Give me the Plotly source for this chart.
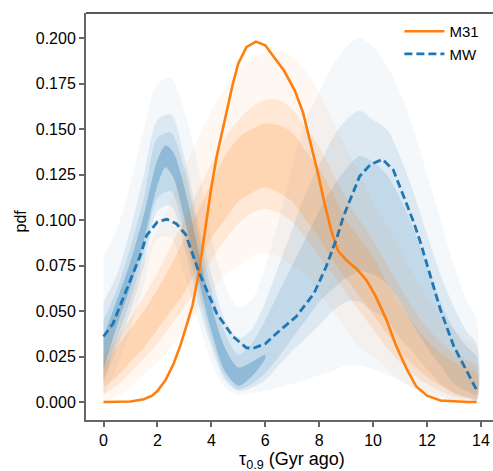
import plotly.graph_objects as go

# ---------------- data ----------------
m31_x = [0, 0.5, 1.0, 1.5, 1.8, 2.0, 2.3, 2.6, 2.85, 3.1, 3.3, 3.55, 3.75, 4.0, 4.2, 4.4, 4.6, 4.8,
         5.0, 5.3, 5.65, 6.0, 6.3, 6.7, 7.1, 7.4, 7.65, 7.95, 8.2, 8.45, 8.7, 9.0, 9.4, 9.75, 10.1,
         10.5, 10.85, 11.25, 11.6, 12.0, 12.5, 13.0, 13.5, 13.84]
m31_y = [0.0, 0.0, 0.0003, 0.0015, 0.0035, 0.006, 0.012, 0.021, 0.031, 0.043, 0.053, 0.072, 0.092,
         0.118, 0.135, 0.149, 0.163, 0.175, 0.186, 0.195, 0.198, 0.196, 0.19, 0.182, 0.171, 0.159,
         0.144, 0.126, 0.109, 0.094, 0.083, 0.078, 0.073, 0.067, 0.058, 0.045, 0.031, 0.018, 0.0085,
         0.0035, 0.0008, 0.0002, 0.0, 0.0]

mw_x = [0, 0.35, 0.85, 1.35, 1.6, 2.0, 2.35, 2.7, 3.05, 3.55, 4.2, 4.8, 5.3, 5.55, 6.0, 6.4, 7.15,
        7.8, 8.25, 8.65, 8.9, 9.2, 9.5, 9.9, 10.35, 10.75, 11.1, 11.5, 11.75, 12.1, 12.5, 13.0, 13.5, 13.84]
mw_y = [0.036, 0.043, 0.0615, 0.080, 0.0915, 0.099, 0.1004, 0.098, 0.092, 0.071, 0.0487, 0.036,
        0.0298, 0.0295, 0.032, 0.0375, 0.047, 0.0595, 0.074, 0.09, 0.102, 0.113, 0.124, 0.1305,
        0.1333, 0.1275, 0.1147, 0.099, 0.088, 0.0707, 0.0505, 0.0304, 0.0158, 0.0066]

# envelopes of the faint posterior sample curves
band_x = [0, 0.5, 1, 1.5, 2, 2.5, 3, 3.5, 4, 4.5, 5, 5.5, 6, 6.5, 7, 7.5, 8, 8.5, 9, 9.5, 10,
          10.5, 11, 11.5, 12, 12.5, 13, 13.5, 13.84]

mw_outer_lo = [0.003, 0.02, 0.04, 0.065, 0.09, 0.09, 0.07, 0.045, 0.022, 0.008, 0.004, 0.005, 0.006,
               0.008, 0.01, 0.012, 0.015, 0.017, 0.02, 0.02, 0.018, 0.015, 0.012, 0.008, 0.005, 0.003,
               0.001, 0.0, 0.0]
mw_outer_hi = [0.08, 0.095, 0.12, 0.15, 0.175, 0.178, 0.16, 0.13, 0.09, 0.065, 0.052, 0.056, 0.075,
               0.1, 0.13, 0.155, 0.17, 0.185, 0.195, 0.2, 0.195, 0.185, 0.17, 0.15, 0.125, 0.1,
               0.075, 0.055, 0.045]
mw_mid_lo = [0.01, 0.03, 0.05, 0.075, 0.105, 0.108, 0.085, 0.055, 0.03, 0.012, 0.006, 0.008, 0.012,
             0.02, 0.028, 0.035, 0.042, 0.05, 0.055, 0.055, 0.05, 0.045, 0.035, 0.027, 0.018, 0.01,
             0.005, 0.002, 0.001]
mw_mid_hi = [0.055, 0.07, 0.095, 0.125, 0.155, 0.158, 0.135, 0.1, 0.07, 0.045, 0.035, 0.04, 0.055,
             0.075, 0.095, 0.115, 0.13, 0.145, 0.155, 0.16, 0.155, 0.15, 0.135, 0.115, 0.092, 0.07,
             0.052, 0.038, 0.032]
mw_in_lo = [0.012, 0.035, 0.056, 0.082, 0.112, 0.116, 0.093, 0.062, 0.034, 0.014, 0.007, 0.01, 0.016,
            0.025, 0.035, 0.045, 0.055, 0.062, 0.068, 0.072, 0.07, 0.065, 0.055, 0.042, 0.03, 0.02,
            0.01, 0.006, 0.004]
mw_in_hi = [0.045, 0.062, 0.085, 0.112, 0.145, 0.148, 0.128, 0.094, 0.062, 0.038, 0.026, 0.032, 0.045,
            0.06, 0.075, 0.09, 0.105, 0.118, 0.128, 0.135, 0.132, 0.125, 0.112, 0.095, 0.075, 0.055,
            0.04, 0.03, 0.025]

# dense bundle of MW samples around the early peak
core_x = [0, 0.5, 1, 1.5, 2, 2.3, 2.6, 3, 3.5, 4, 4.5, 5, 5.5, 6]
mw_core_lo = [0.018, 0.042, 0.063, 0.089, 0.119, 0.129, 0.123, 0.101, 0.069, 0.039, 0.017, 0.009, 0.014, 0.024]
mw_core_hi = [0.036, 0.056, 0.077, 0.103, 0.133, 0.141, 0.137, 0.118, 0.085, 0.053, 0.03, 0.019, 0.022, 0.026]

m31_outer_lo = [0.0, 0.003, 0.008, 0.015, 0.022, 0.03, 0.04, 0.05, 0.06, 0.07, 0.075, 0.08, 0.082,
                0.08, 0.075, 0.07, 0.06, 0.05, 0.04, 0.03, 0.025, 0.018, 0.012, 0.007, 0.004, 0.002,
                0.0, 0.0, 0.0]
m31_outer_hi = [0.038, 0.048, 0.062, 0.078, 0.095, 0.11, 0.128, 0.145, 0.16, 0.172, 0.182, 0.188,
                0.192, 0.193, 0.19, 0.182, 0.17, 0.155, 0.14, 0.125, 0.11, 0.097, 0.083, 0.07, 0.058,
                0.048, 0.04, 0.034, 0.03]
m31_mid_lo = [0.004, 0.009, 0.016, 0.024, 0.032, 0.042, 0.052, 0.064, 0.078, 0.089, 0.098, 0.104,
              0.106, 0.104, 0.099, 0.09, 0.08, 0.07, 0.06, 0.05, 0.04, 0.03, 0.022, 0.015, 0.01,
              0.006, 0.003, 0.002, 0.001]
m31_mid_hi = [0.026, 0.035, 0.046, 0.058, 0.071, 0.086, 0.1, 0.116, 0.131, 0.145, 0.155, 0.162,
              0.166, 0.166, 0.161, 0.151, 0.14, 0.126, 0.112, 0.1, 0.089, 0.076, 0.063, 0.051, 0.041,
              0.033, 0.027, 0.023, 0.02]
m31_in_lo = [0.008, 0.014, 0.022, 0.03, 0.04, 0.05, 0.06, 0.075, 0.09, 0.1, 0.11, 0.115, 0.118,
             0.115, 0.11, 0.1, 0.09, 0.078, 0.068, 0.058, 0.048, 0.038, 0.028, 0.02, 0.014, 0.009,
             0.005, 0.003, 0.002]
m31_in_hi = [0.02, 0.03, 0.04, 0.05, 0.062, 0.075, 0.09, 0.105, 0.12, 0.135, 0.145, 0.15, 0.153,
             0.152, 0.148, 0.138, 0.128, 0.115, 0.1, 0.09, 0.08, 0.066, 0.054, 0.043, 0.034, 0.027,
             0.022, 0.019, 0.016]

y_ticks = [0.0, 0.025, 0.05, 0.075, 0.1, 0.125, 0.15, 0.175, 0.2]
x_ticks = [0, 2, 4, 6, 8, 10, 12, 14]

BLUE = "31,119,180"
ORANGE = "255,127,14"
FONT = "Liberation Sans, Arial, Helvetica, sans-serif"

fig = go.Figure()


def band(xs, lo, hi, rgb, alpha):
    fig.add_trace(go.Scatter(
        x=xs + xs[::-1], y=hi + lo[::-1], fill="toself",
        fillcolor=f"rgba({rgb},{alpha})", line=dict(width=0, shape="spline", smoothing=0.8),
        mode="lines", hoverinfo="skip", showlegend=False))


band(band_x, mw_outer_lo, mw_outer_hi, BLUE, 0.05)
band(band_x, mw_mid_lo, mw_mid_hi, BLUE, 0.11)
band(band_x, mw_in_lo, mw_in_hi, BLUE, 0.14)
band(core_x, mw_core_lo, mw_core_hi, BLUE, 0.3)
band(band_x, m31_outer_lo, m31_outer_hi, ORANGE, 0.06)
band(band_x, m31_mid_lo, m31_mid_hi, ORANGE, 0.12)
band(band_x, m31_in_lo, m31_in_hi, ORANGE, 0.17)

fig.add_trace(go.Scatter(x=m31_x, y=m31_y, mode="lines", name="M31",
                         line=dict(color="#ff7f0e", width=2.6)))
fig.add_trace(go.Scatter(x=mw_x, y=mw_y, mode="lines", name="MW",
                         line=dict(color="#1f77b4", width=2.8, dash="8px,4px")))

fig.update_layout(
    width=493, height=471,
    margin=dict(l=86, r=0, t=13, b=51),
    paper_bgcolor="white", plot_bgcolor="white",
    font=dict(family=FONT, size=16, color="black"),
    showlegend=True,
    legend=dict(x=0.77, y=0.995, xanchor="left", yanchor="top",
                bgcolor="rgba(0,0,0,0)", borderwidth=0,
                font=dict(size=15), itemwidth=40, tracegroupgap=0),
    xaxis=dict(range=[-0.649, 14.447], tickvals=x_ticks, ticktext=[str(v) for v in x_ticks],
               showgrid=False, zeroline=False, showline=True, linecolor="#666", linewidth=2,
               ticks="outside", ticklen=5, tickwidth=1.5, tickcolor="#666",
               tickfont=dict(size=16), automargin=False),
    yaxis=dict(range=[-0.00989, 0.21374], tickvals=y_ticks, tickformat=".3f",
               showgrid=False, zeroline=False, showline=True, linecolor="#666", linewidth=2,
               ticks="outside", ticklen=5, tickwidth=1.5, tickcolor="#666",
               tickfont=dict(size=16), automargin=False),
    shapes=[dict(type="line", xref="paper", yref="paper", x0=0, x1=1, y0=1, y1=1,
                 line=dict(color="#222", width=1.5))],
    annotations=[
        dict(text="τ<sub>0.9</sub> (Gyr ago)", xref="paper", yref="paper",
             x=0.505, y=-0.068, xanchor="center", yanchor="top", showarrow=False,
             borderpad=0, font=dict(size=18)),
        dict(text="pdf", xref="paper", yref="paper", x=-0.16, y=0.49,
             xanchor="center", yanchor="middle", textangle=-90, showarrow=False,
             font=dict(size=16)),
    ],
)

fig.write_html("out.html", config={"displayModeBar": False},
               post_script="document.body.style.margin='0';document.body.style.overflow='hidden';")
